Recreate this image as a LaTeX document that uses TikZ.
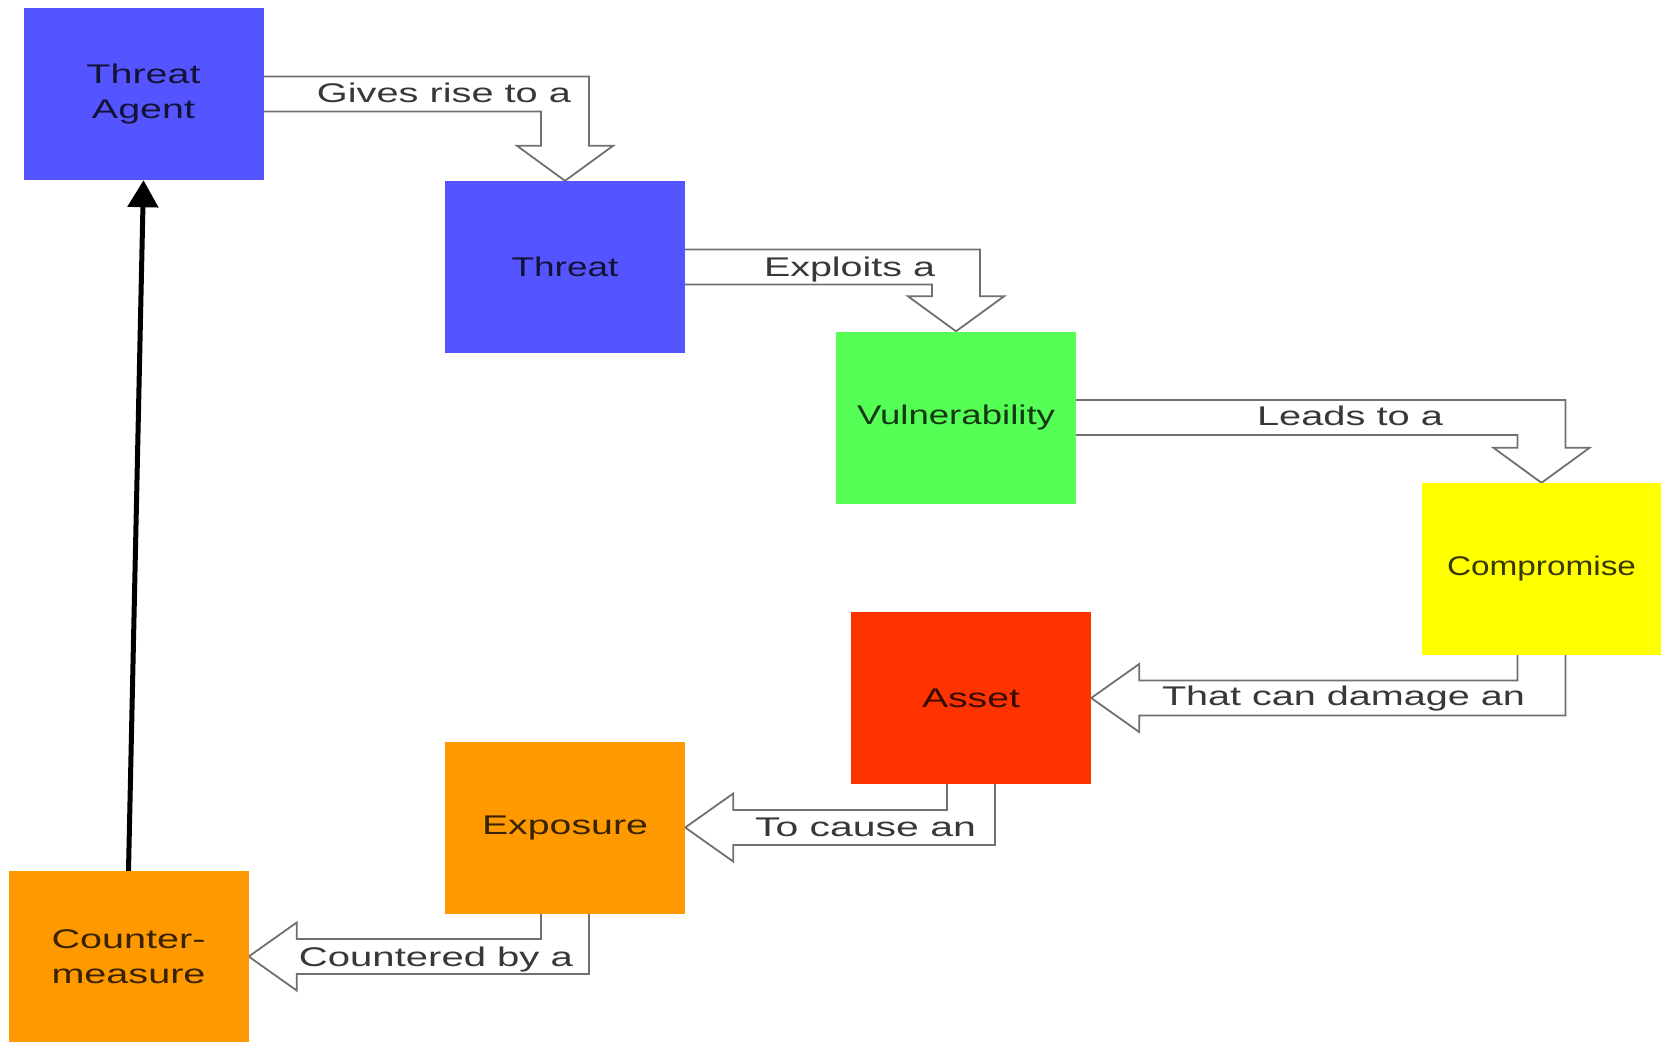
\documentclass[tikz,border=0pt]{standalone}
\usepackage{fontspec}
\setmainfont{Liberation Sans}
\usetikzlibrary{calc,arrows.meta,backgrounds}
\definecolor{tblue}{HTML}{5555FF}
\definecolor{tgreen}{HTML}{55FF55}
\definecolor{tyellow}{HTML}{FFFF00}
\definecolor{tred}{HTML}{FF3300}
\definecolor{torange}{HTML}{FF9900}
\definecolor{arrowline}{HTML}{707070}
\definecolor{labeltext}{HTML}{383838}
% set a text to a given width, keeping its natural height
\newcommand{\fitw}[2]{\resizebox{#1pt}{\height}{#2}}

\tikzset{
  box/.style={fill=#1, draw=none, minimum width=240pt, minimum height=172pt,
    inner sep=0pt, align=center, text=#1!22!black,
    font=\fontsize{27}{35}\selectfont},
  lbl/.style={anchor=base, inner sep=0pt, text=labeltext,
    font=\fontsize{27}{35}\selectfont},
  flow/.style={draw=arrowline, line width=1.8pt, fill=white, line join=miter},
  link/.style={draw=black, line width=5pt, -{Triangle[length=27pt,width=30pt]}}
}

\begin{document}
\begin{tikzpicture}[x=1pt,y=-1pt]
\begin{scope}[on background layer]
  \path[fill=white, use as bounding box] (0,0) rectangle (1661,1042);
\end{scope}

% the chain of concepts
\node[box=tblue]   (ta) at (143.5,94)   {\fitw{114}{Threat}\\\fitw{103}{Agent}};
\node[box=tblue]   (th) at (565,267)    {\fitw{107}{Threat}};
\node[box=tgreen]  (vu) at (956,417.5)  {\fitw{198}{Vulnerability}};
\node[box=tyellow, minimum width=239pt] (co) at (1541.5,569) {\fitw{189}{Compromise}};
\node[box=tred]    (as) at (971,698)    {\fitw{98}{Asset}};
\node[box=torange] (ex) at (565,827.5)  {\fitw{166}{Exposure}};
\node[box=torange, minimum height=171pt] (cm) at (128.5,956.5) {\fitw{154}{Counter-}\\\fitw{154}{measure}};

% bent block arrows, drawn beneath the boxes
\begin{scope}[on background layer]
  % right, then down
  \draw[flow] let \p1=(ta.east), \p2=(th.north) in
    (\x1-3pt,\y1+17.5pt) -- (\x2+24pt,\y1+17.5pt) -- (\x2+24pt,\y2+35pt)
    -- (\x2+48pt,\y2+35pt) -- (\p2) -- (\x2-48pt,\y2+35pt)
    -- (\x2-24pt,\y2+35pt) -- (\x2-24pt,\y1-17.5pt) -- (\x1-3pt,\y1-17.5pt) -- cycle;
  \draw[flow] let \p1=(th.east), \p2=(vu.north) in
    (\x1-3pt,\y1+17.5pt) -- (\x2+24pt,\y1+17.5pt) -- (\x2+24pt,\y2+35pt)
    -- (\x2+48pt,\y2+35pt) -- (\p2) -- (\x2-48pt,\y2+35pt)
    -- (\x2-24pt,\y2+35pt) -- (\x2-24pt,\y1-17.5pt) -- (\x1-3pt,\y1-17.5pt) -- cycle;
  \draw[flow] let \p1=(vu.east), \p2=(co.north) in
    (\x1-3pt,\y1+17.5pt) -- (\x2+24pt,\y1+17.5pt) -- (\x2+24pt,\y2+35pt)
    -- (\x2+48pt,\y2+35pt) -- (\p2) -- (\x2-48pt,\y2+35pt)
    -- (\x2-24pt,\y2+35pt) -- (\x2-24pt,\y1-17.5pt) -- (\x1-3pt,\y1-17.5pt) -- cycle;
  % down, then left
  \draw[flow] let \p1=(co.south), \p2=(as.east) in
    (\x1-24pt,\y1+3pt) -- (\x1-24pt,\y2+17.5pt) -- (\x2+48pt,\y2+17.5pt)
    -- (\x2+48pt,\y2+34pt) -- (\p2) -- (\x2+48pt,\y2-34pt)
    -- (\x2+48pt,\y2-17.5pt) -- (\x1+24pt,\y2-17.5pt) -- (\x1+24pt,\y1+3pt) -- cycle;
  \draw[flow] let \p1=(as.south), \p2=(ex.east) in
    (\x1-24pt,\y1+3pt) -- (\x1-24pt,\y2+17.5pt) -- (\x2+48pt,\y2+17.5pt)
    -- (\x2+48pt,\y2+34pt) -- (\p2) -- (\x2+48pt,\y2-34pt)
    -- (\x2+48pt,\y2-17.5pt) -- (\x1+24pt,\y2-17.5pt) -- (\x1+24pt,\y1+3pt) -- cycle;
  \draw[flow] let \p1=(ex.south), \p2=(cm.east) in
    (\x1-24pt,\y1+3pt) -- (\x1-24pt,\y2+17.5pt) -- (\x2+48pt,\y2+17.5pt)
    -- (\x2+48pt,\y2+34pt) -- (\p2) -- (\x2+48pt,\y2-34pt)
    -- (\x2+48pt,\y2-17.5pt) -- (\x1+24pt,\y2-17.5pt) -- (\x1+24pt,\y1+3pt) -- cycle;
\end{scope}

% arrow labels
\node[lbl] (l1) at (444,102)    {\fitw{254}{Gives rise to a}};
\node[lbl] (l2) at (849.5,276)  {\fitw{171}{Exploits a}};
\node[lbl] (l3) at (1350,425.5) {\fitw{186}{Leads to a}};
\node[lbl] (l4) at (1343.5,705) {\fitw{363}{That can damage an}};
\node[lbl] (l5) at (865.5,836)  {\fitw{221}{To cause an}};
\node[lbl] (l6) at (436,966)    {\fitw{274}{Countered by a}};

% feedback to the threat agent
\draw[link] (cm.north) -- (ta.south);
\end{tikzpicture}
\end{document}
